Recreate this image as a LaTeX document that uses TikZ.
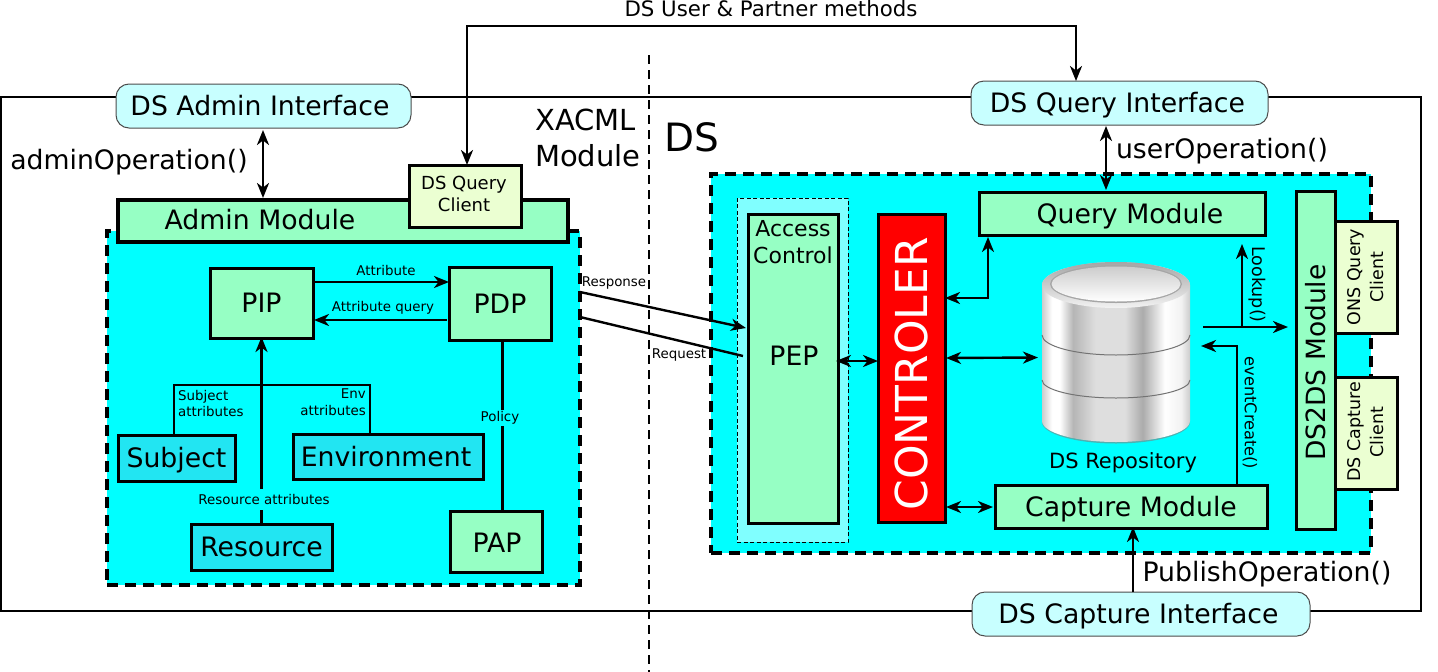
\documentclass[tikz,border=0pt]{standalone}
\usepackage{fontspec}
\usepackage{graphicx}
\setmainfont{DejaVu Sans}
\usetikzlibrary{arrows.meta,calc}
\definecolor{mint}{HTML}{96FFC4}
\definecolor{pale}{HTML}{EBFFD2}
\definecolor{ifc}{HTML}{C8FFFF}
\definecolor{ctx}{HTML}{22E5F2}
\definecolor{acz}{HTML}{80FFFF}
\definecolor{aqua}{HTML}{00FFFF}
\definecolor{redbox}{HTML}{FF0000}
\pgfdeclarehorizontalshading{cylbody}{100bp}{rgb(0bp)=(.8,.8,.8);rgb(25bp)=(.8,.8,.8);rgb(28.4bp)=(1,1,1);rgb(31bp)=(1,1,1);rgb(35.5bp)=(.71,.71,.71);rgb(43bp)=(.87,.87,.87);rgb(53bp)=(.87,.87,.87);rgb(59bp)=(.67,.67,.67);rgb(66.5bp)=(1,1,1);rgb(72bp)=(.95,.95,.95);rgb(75bp)=(.8,.8,.8);rgb(100bp)=(.8,.8,.8)}
\newcommand{\fs}[1]{\fontsize{#1}{#1}\selectfont}
\tikzset{
  x=1pt,y=-1pt,
  >={Stealth[length=15pt,width=12pt,inset=4.5pt]},
  conn/.style={draw=black,line width=2.4pt},
  ifbox/.style={draw=black!70,fill=ifc,rounded corners=13pt,line width=1pt,inner sep=0pt,outer sep=0pt,font=\fs{26.7},text height=19pt,text depth=0pt},
  zone/.style={draw=black,fill=aqua,line width=4pt,dash pattern=on 11pt off 7pt,inner sep=0pt,outer sep=0pt},
  mbox/.style={draw=black,fill=mint,line width=3pt,inner sep=0pt,outer sep=0pt,font=\fs{26.7},align=center},
  cbox/.style={draw=black,fill=ctx,line width=3pt,inner sep=0pt,outer sep=0pt,font=\fs{26.7},text height=19pt,text depth=0pt},
  client/.style={draw=black,fill=pale,line width=3pt,inner sep=0pt,outer sep=0pt,font=\fs{18},align=center},
  lab/.style={inner sep=0pt,font=\fs{13.4},align=center},
  big/.style={inner sep=0pt,font=\fs{26.7}},
}
\begin{document}
\begin{tikzpicture}
\useasboundingbox (0,0) rectangle (1438,672);
% outer frame and separator
\node[draw=black,line width=2pt,inner sep=0pt,minimum width=1420pt,minimum height=514pt] (frame) at (711,354) {};
\coordinate (septop) at (649,55);
\coordinate (sepbot) at (649,672);
\draw[black,line width=2pt,dash pattern=on 9pt off 6pt] (septop) -- (sepbot);
% zones
\node[zone,minimum width=473pt,minimum height=354pt] (xzone) at (343.5,408) {};
\node[zone,minimum width=660pt,minimum height=379pt] (dszone) at (1041,363.5) {};
\node[draw=black,fill=acz,line width=1pt,dash pattern=on 4pt off 2.5pt,minimum width=111pt,minimum height=344pt,inner sep=0pt] (aczone) at (792.5,370) {};
% interfaces
\node[ifbox,minimum width=295pt,minimum height=44pt] (adminif) at (263.5,106) {DS Admin Interface\hspace*{7pt}};
\node[ifbox,minimum width=297pt,minimum height=44pt] (queryif) at (1119.5,103) {DS Query Interface\hspace*{4pt}};
\node[ifbox,minimum width=338pt,minimum height=44pt] (captureif) at (1141,614) {DS Capture Interface\hspace*{5pt}};
% XACML side
\node[draw=black,fill=mint,line width=4pt,inner sep=0pt,outer sep=0pt,minimum width=450pt,minimum height=42pt] (adminm) at (343,221) {};
\node[big,anchor=center] (adminlab) at (260,220) {Admin Module};
\node[client,minimum width=112pt,minimum height=62pt] (qclient) at (465,196) {};
\node[inner sep=0pt,font=\fs{18},align=center] (qclab) at (464,194) {DS Query\\[4pt]Client};
\node[mbox,minimum width=103pt,minimum height=70pt] (pip) at (261.5,303) {PIP};
\node[mbox,minimum width=102pt,minimum height=73pt] (pdp) at (500,303.5) {PDP};
\node[mbox,minimum width=92pt,minimum height=61pt,text height=22pt,text depth=0pt] (pap) at (496,541.5) {\hspace*{2pt}PAP};
\node[cbox,minimum width=117pt,minimum height=46pt] (subject) at (176.5,458) {Subject};
\node[cbox,minimum width=190pt,minimum height=45pt] (env) at (388,456.5) {Environment\hspace*{4pt}};
\node[cbox,minimum width=141pt,minimum height=46pt] (res) at (261.5,547) {Resource};
% DS side
\node[draw=black,fill=mint,line width=3pt,inner sep=0pt,outer sep=0pt,minimum width=90pt,minimum height=309pt] (pep) at (793,368.5) {};
\node[inner sep=0pt,font=\fs{22},align=center] (aclab) at (793,242) {Access\\[5pt]Control};
\node[big] (peplab) at (794,356) {PEP};
\node[draw=black,fill=redbox,line width=3pt,inner sep=0pt,outer sep=0pt,minimum width=67pt,minimum height=308pt] (ctrl) at (911.5,368) {};
\node[inner sep=0pt,text=white,font=\fs{44}] (ctrllab) at (911.5,374) {\rotatebox{90}{CONTROLER}};
\node[mbox,minimum width=286pt,minimum height=43pt,text height=19pt,text depth=0pt] (querym) at (1122,213.5) {\hspace*{16pt}Query Module};
\node[mbox,minimum width=272pt,minimum height=43pt,text height=19pt,text depth=0pt] (capturem) at (1131,506.5) {Capture Module};
\node[draw=black,fill=mint,line width=3pt,inner sep=0pt,outer sep=0pt,minimum width=39pt,minimum height=338pt] (ds2ds) at (1315.5,360) {};
\node[inner sep=0pt,font=\fs{26.5}] (ds2dslab) at (1315.5,362.5) {\rotatebox{90}{DS2DS Module}};
\node[client,minimum width=62pt,minimum height=112pt] (onsc) at (1366,277) {};
\node[inner sep=0pt,font=\fs{17.5}] (onslab) at (1368,277) {\rotatebox{90}{\begin{tabular}{@{}c@{}}ONS Query\\[4pt]Client\end{tabular}}};
\node[client,minimum width=62pt,minimum height=112pt] (capc) at (1366,433.5) {};
\node[inner sep=0pt,font=\fs{17.5}] (capclab) at (1368,432) {\rotatebox{90}{\begin{tabular}{@{}c@{}}DS Capture\\[4pt]Client\end{tabular}}};
% repository
\fill[black!50,opacity=.6] (1042,422) arc[start angle=180,end angle=0,x radius=74,y radius=21.5] -- cycle;
\shade[shading=cylbody] (1042,285) -- (1042,421) arc[start angle=180,end angle=0,x radius=74,y radius=21] -- (1190,285) arc[start angle=0,end angle=-180,x radius=74,y radius=23] -- cycle;
\draw[black!55,line width=1pt] (1042,335) arc[start angle=180,end angle=0,x radius=74,y radius=20];
\draw[black!55,line width=1pt] (1042,380) arc[start angle=180,end angle=0,x radius=74,y radius=18];
\shade[top color=black!35,bottom color=black!5] (1116,285) ellipse[x radius=74,y radius=23];
\fill[black!35] (1116,284) ellipse[x radius=66,y radius=19];
\shade[top color=black!20,bottom color=white] (1116,284) ellipse[x radius=64.5,y radius=17.5];
\node[inner sep=0pt,font=\fs{21}] (dblab) at (1123,462.5) {DS Repository};
% free text
\node[big,anchor=center] (adminop) at (129,162) {adminOperation()};
\node[big,anchor=center] (userop) at (1222,151) {userOperation()};
\node[big,anchor=center] (pubop) at (1267,574) {PublishOperation()};
\node[inner sep=0pt,font=\fs{29},align=left,anchor=west] (xacml) at (535,138) {XACML\\[7pt]Module};
\node[inner sep=0pt,font=\fs{39}] (dslab) at (692,137) {DS};
\node[inner sep=0pt,font=\fs{21.3}] (toplab) at (771,9) {DS User \& Partner methods};
% connectors
\draw[conn,<->] ([xshift=2]qclient.north) -- ++(0,-139) -| ([xshift=-43.5]queryif.north);
\draw[conn,<->] ([yshift=-2,xshift=-0.5]adminif.south) -- ([xshift=-80,yshift=2]adminm.north);
\draw[conn,<->] ([xshift=-13.5,yshift=-1]queryif.south) -- ([xshift=-16,yshift=2]querym.north);
\draw[conn,<->] ([yshift=70]ctrl.east) -| ([xshift=9,yshift=-2]querym.south west);
\draw[conn,<->] ([yshift=10,xshift=1]ctrl.east) -- (1038,357.5) coordinate (dbleft);
\draw[conn,<->] ([yshift=-139,xshift=1]ctrl.east) -- ([yshift=-0.5,xshift=-2]capturem.west);
\draw[conn,<->] ([yshift=7.5,xshift=-2]pep.east) -- ([yshift=7,xshift=0]ctrl.west);
\draw[conn,->] ([xshift=-8]captureif.north) -- ([yshift=1,xshift=2]capturem.south);
\coordinate (lookstart) at (1203,327);
\coordinate (lookbranch) at (1242,327);
\coordinate (looktop) at (1242,244);
\coordinate (lookend) at (1288,327);
\draw[conn,->] (lookstart) -- (lookend);
\draw[conn,->] (lookbranch) -- (looktop);
\node[lab,rotate=-90,font=\fs{17.5}] (looklab) at (1257,284.5) {Lookup()};
\draw[conn,->] ([xshift=106]capturem.north) |- (1201,346) coordinate (evtend);
\node[lab,rotate=-90,font=\fs{16.2}] (evtlab) at (1250,413) {eventCreate()};
% XACML connectors
\draw[conn,->] (580,292) coordinate (respstart) -- ([yshift=40.5,xshift=-2]pep.west);
\node[lab] (resplab) at (614,283) {Response};
\draw[conn] (580,317) coordinate (reqstart) -- ([yshift=12.5,xshift=-5]pep.west);
\node[lab] (reqlab) at (679,355) {Request};
\draw[conn,->] ([yshift=21,xshift=2]pip.east) -- ([yshift=21.5]pdp.west);
\node[lab] (attrlab) at (386,271) {Attribute};
\draw[conn,->] ([yshift=-16.5,xshift=-2]pdp.west) -- ([yshift=-17,xshift=1]pip.east);
\node[lab] (qrylab) at (383,308) {Attribute query};
\coordinate (hubl) at (174,385);
\coordinate (hubr) at (370,385);
\draw[conn] ([xshift=-2.5]subject.north) -- (hubl) -- (hubr) -- ([xshift=-18]env.north);
\node[lab,align=left,anchor=north west] (sublab) at (178,390) {Subject\\[3pt]attributes};
\node[lab,align=right,anchor=north east] (envlab) at (366,389) {Env\\[3pt]attributes};
\node[lab] (reslab) at (264,499) {Resource attributes};
\draw[conn,line width=3pt,->] ([yshift=35]res.north) -- ([yshift=1]pip.south);
\draw[conn] (res.north) -- ++(0,-14);
\draw[conn,line width=3pt] ([xshift=2]pdp.south) -- ([xshift=6]pap.north);
\node[lab,fill=aqua,inner ysep=2pt] (pollab) at (500,418) {Policy};
\end{tikzpicture}
\end{document}
